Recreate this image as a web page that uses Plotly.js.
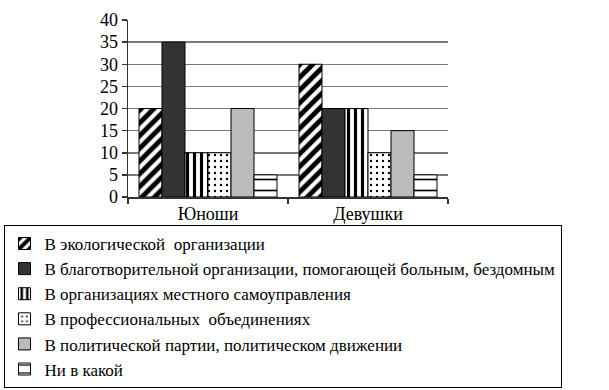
<!DOCTYPE html>
<html>
<head>
<meta charset="utf-8">
<script src="https://cdn.plot.ly/plotly-3.0.1.min.js"></script>
<style>
html,body{margin:0;padding:0;background:#fff;}
#chart{width:609px;height:390px;}
</style>
</head>
<body>
<div id="chart"></div>
<script>
const categories = ["Юноши", "Девушки"];
const seriesNames = [
  "В экологической  организации",
  "В благотворительной организации, помогающей больным, бездомным",
  "В организациях местного самоуправления",
  "В профессиональных  объединениях",
  "В политической партии, политическом движении",
  "Ни в какой"
];
const ecology = [20, 30];
const charity = [35, 20];
const localGov = [10, 20];
const professional = [10, 10];
const political = [20, 15];
const none = [5, 5];
const yTicks = [0, 5, 10, 15, 20, 25, 30, 35, 40];

const values = [ecology, charity, localGov, professional, political, none];
const styles = [
  {color: "#ffffff", pattern: {shape: "/", fgcolor: "#000000", bgcolor: "#ffffff", size: 9, solidity: 0.55, fillmode: "replace", fgopacity: 1}},
  {color: "#333333", pattern: {shape: ""}},
  {color: "#ffffff", pattern: {shape: "|", fgcolor: "#000000", bgcolor: "#ffffff", size: 7, solidity: 0.45, fillmode: "replace", fgopacity: 1}},
  {color: "#ffffff", pattern: {shape: ".", fgcolor: "#000000", bgcolor: "#ffffff", size: 6, solidity: 0.12, fillmode: "replace", fgopacity: 1}},
  {color: "#bbbbbb", pattern: {shape: ""}},
  {color: "#ffffff", pattern: {shape: "-", fgcolor: "#000000", bgcolor: "#ffffff", size: 11, solidity: 0.15, fillmode: "replace", fgopacity: 1}}
];

const traces = values.map((v, i) => ({
  type: "bar",
  name: seriesNames[i],
  x: categories,
  y: v,
  marker: {color: styles[i].color, pattern: styles[i].pattern, line: {color: "#000", width: 1}},
  hoverinfo: "skip"
}));

const font = {family: "Liberation Serif, Times New Roman, serif", size: 18, color: "#000"};
const legendFont = {family: "Liberation Serif, Times New Roman, serif", size: 17, color: "#000"};

const layout = {
  width: 609, height: 390,
  margin: {l: 128, r: 161, t: 20, b: 193, autoexpand: false},
  paper_bgcolor: "#fff", plot_bgcolor: "#fff",
  font: font,
  barmode: "group",
  bargap: 0.1375,
  bargroupgap: 0,
  showlegend: true,
  legend: {
    x: -0.389, xanchor: "left", xref: "paper",
    y: -0.158, yanchor: "top", yref: "paper",
    bordercolor: "#000", borderwidth: 1,
    bgcolor: "#fff",
    font: legendFont,
    tracegroupgap: 0,
    traceorder: "normal"
  },
  xaxis: {
    type: "category",
    showline: true, linecolor: "#333", linewidth: 1.5,
    ticks: "outside", tickson: "boundaries", ticklen: 5, tickcolor: "#333", tickwidth: 1.5,
    tickfont: font,
    showgrid: false,
    zeroline: false,
    fixedrange: true
  },
  yaxis: {
    range: [0, 40],
    tickvals: yTicks,
    ticktext: yTicks.map(String),
    showline: true, linecolor: "#333", linewidth: 1.5,
    ticks: "outside", ticklen: 5, tickcolor: "#333", tickwidth: 1.5,
    showgrid: true, gridcolor: "#7a7a7a", gridwidth: 1.5,
    zeroline: false,
    tickfont: font,
    fixedrange: true
  }
};

Plotly.newPlot("chart", traces, layout, {staticPlot: true, displayModeBar: false});
</script>
</body>
</html>
